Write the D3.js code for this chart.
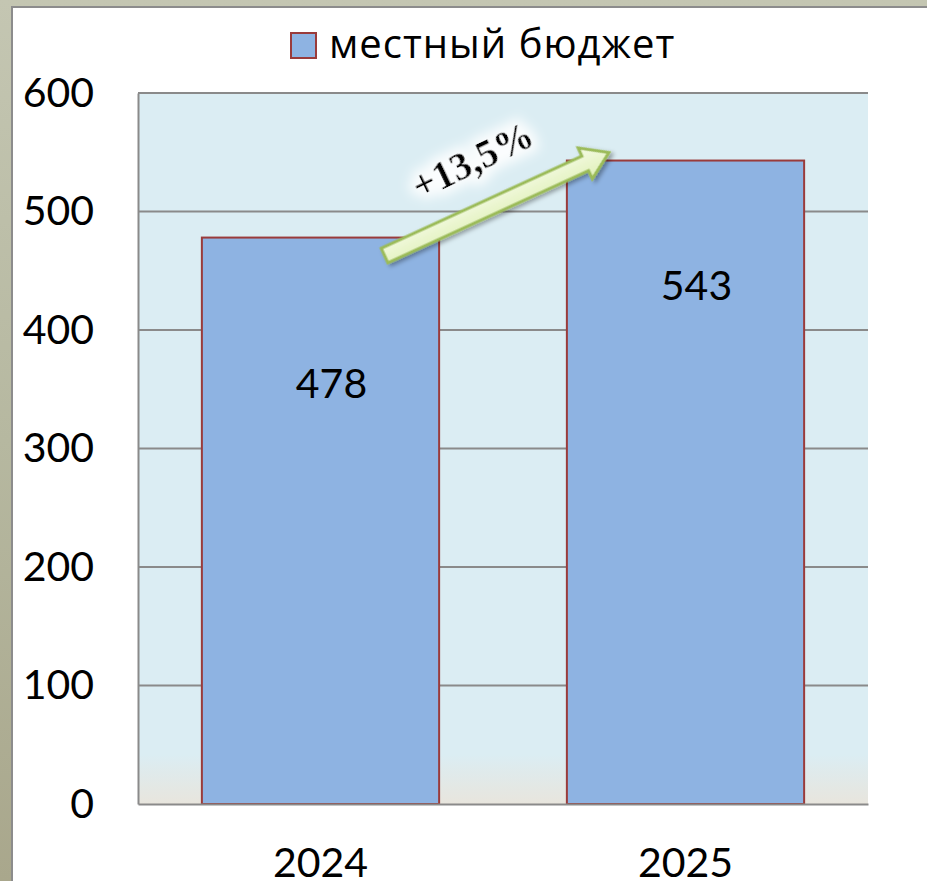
<!DOCTYPE html>
<html>
<head>
<meta charset="utf-8">
<script src="https://cdn.jsdelivr.net/npm/d3@7"></script>
<style>
  html, body { margin: 0; padding: 0; background: #fff; }
  svg { display: block; }
</style>
</head>
<body>
<div id="chart"></div>
<script>
// данные
var years = ['2024', '2025']
var values = [478, 543]
var seriesName = 'местный бюджет'
var yTicks = [0, 100, 200, 300, 400, 500, 600]
var growthLabel = '+13,5%'

var W = 927, H = 881
var margin = {top: 93, right: 59, bottom: 77, left: 138}
var plotW = W - margin.left - margin.right
var plotH = H - margin.top - margin.bottom

var svg = d3.select('#chart')
  .append('svg')
  .attr('width', W)
  .attr('height', H)

var defs = svg.append('defs')

// фон слайда
var bg = defs.append('linearGradient').attr('id', 'bg').attr('x1', 0).attr('y1', 0).attr('x2', 0).attr('y2', 1)
bg.append('stop').attr('offset', '0%').attr('stop-color', '#c4c6b2')
bg.append('stop').attr('offset', '50%').attr('stop-color', '#b6b8a0')
bg.append('stop').attr('offset', '100%').attr('stop-color', '#a9a78c')

var plotBg = defs.append('linearGradient').attr('id', 'plotBg').attr('x1', 0).attr('y1', 0).attr('x2', 0).attr('y2', 1)
plotBg.append('stop').attr('offset', '0%').attr('stop-color', '#dbedf3')
plotBg.append('stop').attr('offset', '93%').attr('stop-color', '#dbedf3')
plotBg.append('stop').attr('offset', '100%').attr('stop-color', '#e8e5dd')

var arrowGrad = defs.append('linearGradient').attr('id', 'arrowGrad').attr('x1', 0).attr('y1', 0).attr('x2', 0).attr('y2', 1)
arrowGrad.append('stop').attr('offset', '0%').attr('stop-color', '#f6fbe6')
arrowGrad.append('stop').attr('offset', '100%').attr('stop-color', '#dff0b8')

var shadow = defs.append('filter').attr('id', 'shadow').attr('x', '-20%').attr('y', '-50%').attr('width', '140%').attr('height', '200%')
shadow.append('feDropShadow').attr('dx', 2).attr('dy', 3).attr('stdDeviation', 2).attr('flood-color', '#000').attr('flood-opacity', 0.35)

var glow = defs.append('filter').attr('id', 'glow').attr('x', '-30%').attr('y', '-60%').attr('width', '160%').attr('height', '220%')
glow.append('feMorphology').attr('in', 'SourceAlpha').attr('operator', 'dilate').attr('radius', 6).attr('result', 'd')
glow.append('feGaussianBlur').attr('in', 'd').attr('stdDeviation', 6).attr('result', 'b')
glow.append('feFlood').attr('flood-color', '#ffffff').attr('flood-opacity', 0.9)
glow.append('feComposite').attr('in2', 'b').attr('operator', 'in').attr('result', 'g')
var gm = glow.append('feMerge')
gm.append('feMergeNode').attr('in', 'g')
gm.append('feMergeNode').attr('in', 'SourceGraphic')

svg.append('rect').attr('width', W).attr('height', H).attr('fill', 'url(#bg)')
svg.append('rect')
  .attr('x', 12).attr('y', 7)
  .attr('width', W).attr('height', H)
  .attr('fill', '#fff')
  .attr('stroke', '#8c8c8c')
  .attr('stroke-width', 2)

var container = svg.append('g')
  .attr('transform', 'translate(' + margin.left + ',' + margin.top + ')')

var x = d3.scaleBand()
  .domain(years)
  .range([0, plotW])
  .paddingInner(0.35)
  .paddingOuter(0.175)

var y = d3.scaleLinear()
  .domain([0, 600])
  .range([plotH, 0])

// область построения
container.append('rect')
  .attr('width', plotW).attr('height', plotH)
  .attr('fill', 'url(#plotBg)')

// сетка
container.append('g')
  .selectAll('line')
  .data(yTicks.filter(function(d) { return d > 0 }))
  .enter()
  .append('line')
  .attr('x1', 0).attr('x2', plotW)
  .attr('y1', function(d) { return y(d) }).attr('y2', function(d) { return y(d) })
  .attr('stroke', '#8a8a8a')
  .attr('stroke-width', 2)

// ось Y
var yAxis = d3.axisLeft(y).tickValues(yTicks).tickSize(0).tickPadding(44)
container.append('g')
  .call(yAxis)
  .call(function(g) {
    g.select('.domain').attr('stroke', '#8a8a8a').attr('stroke-width', 2)
    g.selectAll('.tick text')
      .attr('fill', '#000')
      .attr('font-family', 'Lato, "Open Sans", sans-serif')
      .attr('font-size', '41px')
  })

// столбцы
container.selectAll('.bar')
  .data(values)
  .enter()
  .append('rect')
  .attr('class', 'bar')
  .attr('x', function(d, i) { return x(years[i]) })
  .attr('y', function(d) { return y(d) })
  .attr('width', x.bandwidth())
  .attr('height', function(d) { return plotH - y(d) })
  .attr('fill', '#8eb3e2')
  .attr('stroke', '#9a3b3b')
  .attr('stroke-width', 2)

// подписи значений
var labelDrop = [160, 139]
container.selectAll('.val')
  .data(values)
  .enter()
  .append('text')
  .attr('class', 'val')
  .attr('x', function(d, i) { return x(years[i]) + x.bandwidth() / 2 + 11 })
  .attr('y', function(d, i) { return y(d) + labelDrop[i] })
  .attr('text-anchor', 'middle')
  .attr('font-family', 'Lato, "Open Sans", sans-serif')
  .attr('font-size', '41px')
  .attr('fill', '#000')
  .text(function(d) { return d })

// ось X
var xAxis = d3.axisBottom(x).tickSize(0).tickPadding(44)
container.append('g')
  .attr('transform', 'translate(0,' + plotH + ')')
  .call(xAxis)
  .call(function(g) {
    g.select('.domain').attr('stroke', '#8a8a8a').attr('stroke-width', 2)
    g.selectAll('.tick text')
      .attr('fill', '#000')
      .attr('font-family', 'Lato, "Open Sans", sans-serif')
      .attr('font-size', '41px')
  })

// стрелка роста
var ax0 = x(years[0]) + x.bandwidth() * 0.77, ay0 = y(values[0]) + 18
var ax1 = x(years[1]) + 42, ay1 = y(values[1]) - 8
var len = Math.hypot(ax1 - ax0, ay1 - ay0)
var ang = Math.atan2(ay1 - ay0, ax1 - ax0) * 180 / Math.PI
var shaft = 8, head = 17, headLen = 26
var arrow = container.append('g')
  .attr('transform', 'translate(' + ax0 + ',' + ay0 + ') rotate(' + ang + ')')
arrow.append('path')
  .attr('d', d3.line()([
    [0, -shaft], [len - headLen, -shaft], [len - headLen, -head], [len, 0],
    [len - headLen, head], [len - headLen, shaft], [0, shaft]
  ]) + 'Z')
  .attr('fill', 'url(#arrowGrad)')
  .attr('stroke', '#9bbb59')
  .attr('stroke-width', 3)
  .attr('stroke-linejoin', 'miter')
  .attr('filter', 'url(#shadow)')

container.append('text')
  .attr('transform', 'translate(' + (ax0 + (ax1 - ax0) * 0.4 + 4) + ',' + (ay0 + (ay1 - ay0) * 0.4 - 42) + ') rotate(' + (ang - 1) + ')')
  .attr('text-anchor', 'middle')
  .attr('font-family', '"Liberation Serif", "Times New Roman", serif')
  .attr('font-weight', 'bold')
  .attr('font-size', '39px')
  .attr('fill', '#000')
  .attr('filter', 'url(#glow)')
  .text(growthLabel)

// легенда
var legend = svg.append('g').attr('transform', 'translate(291,33)')
legend.append('rect')
  .attr('width', 25).attr('height', 25)
  .attr('fill', '#8eb3e2')
  .attr('stroke', '#9a3b3b')
  .attr('stroke-width', 2)
legend.append('text')
  .attr('x', 38).attr('y', 25)
  .attr('font-family', '"Open Sans", Lato, sans-serif')
  .attr('font-size', '40px')
  .attr('letter-spacing', '1px')
  .attr('fill', '#000')
  .text(seriesName)
</script>
</body>
</html>
